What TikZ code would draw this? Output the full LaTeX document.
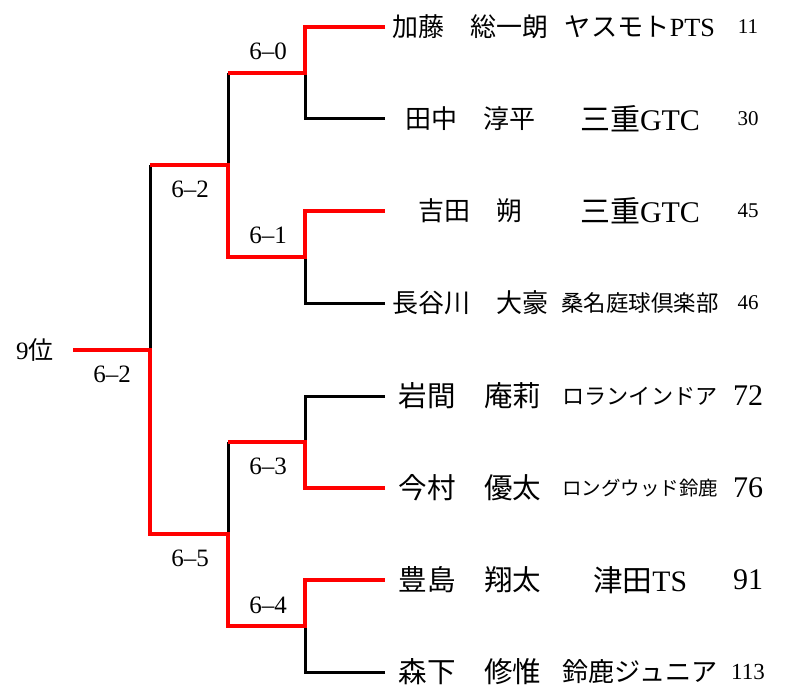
\documentclass[tikz,border=0pt]{standalone}
\usepackage{fontspec}
\usepackage{graphicx}
\setmainfont{Liberation Serif}
\newfontfamily\jp{Noto Sans CJK JP}
\begin{document}
\begin{tikzpicture}[x=1pt,y=-1pt,
  win/.style={draw=red,line width=4pt},
  lose/.style={draw=black,line width=3pt},
  score/.style={font=\fontsize{25}{25}\selectfont,inner sep=0pt},
  nameA/.style={font=\jp\fontsize{26}{26}\selectfont,inner sep=0pt},
  nameB/.style={font=\jp\fontsize{28.5}{28.5}\selectfont,inner sep=0pt},
  team/.style={inner sep=0pt},
  seed/.style={inner sep=0pt}]
\useasboundingbox (0,0) rectangle (792,695);
% leaves
\coordinate (L1) at (385,27);
\coordinate (L2) at (385,119);
\coordinate (L3) at (385,211);
\coordinate (L4) at (385,303);
\coordinate (L5) at (385,396);
\coordinate (L6) at (385,488);
\coordinate (L7) at (385,580);
\coordinate (L8) at (385,672);
% round 1 junctions
\coordinate (M1) at (305,73);
\coordinate (M2) at (305,257);
\coordinate (M3) at (305,442);
\coordinate (M4) at (305,626);
\coordinate (A1) at (228,73);
\coordinate (A2) at (228,257);
\coordinate (A3) at (228,442);
\coordinate (A4) at (228,626);
% round 2
\coordinate (S1) at (228,165);
\coordinate (S2) at (228,534);
\coordinate (B1) at (150,165);
\coordinate (B2) at (150,534);
% final
\coordinate (F) at (150,350);
\coordinate (E) at (73,350);

% losing lines
\draw[lose] (L2) -| (M1);
\draw[lose] (L4) -| (M2);
\draw[lose] (L5) -| (M3);
\draw[lose] (L8) -| (M4);
\draw[lose] (A1) -- (S1);
\draw[lose] (A3) -- (S2);
\draw[lose] (B1) -- (F);
% winning lines
\draw[win] (L1) -| (M1) -- (A1);
\draw[win] (L3) -| (M2) -- (A2) -- (S1) -- (B1);
\draw[win] (L6) -| (M3) -- (A3);
\draw[win] (E) -- (F) -- (B2) -- (S2) -- (A4) -- (M4) |- (L7);

% scores
\node[score] (s60) at (268,51) {6–0};
\node[score] (s61) at (268,235) {6–1};
\node[score] (s63) at (268,466) {6–3};
\node[score] (s64) at (268,605) {6–4};
\node[score] (s62a) at (190,189) {6–2};
\node[score] (s65) at (190,558) {6–5};
\node[score] (s62b) at (112,374) {6–2};
\node[score] (rank) at (35,350) {9{\jp 位}};

% names
\node[nameA] (n1) at (470,27) {加藤　総一朗};
\node[nameA] (n2) at (470,119) {田中　淳平};
\node[nameA] (n3) at (470,211) {吉田　朔};
\node[nameA] (n4) at (470,303) {長谷川　大豪};
\node[nameB] (n5) at (470,396) {岩間　庵莉};
\node[nameB] (n6) at (470,488) {今村　優太};
\node[nameB] (n7) at (470,580) {豊島　翔太};
\node[nameB] (n8) at (470,672) {森下　修惟};

% teams
\node[team] (t1) at (640,27) {\resizebox{150pt}{!}{{\jp ヤスモト}PTS}};
\node[team] (t2) at (640,119) {\resizebox{120pt}{!}{{\jp 三重}GTC}};
\node[team] (t3) at (640,211) {\resizebox{120pt}{!}{{\jp 三重}GTC}};
\node[team] (t4) at (640,303) {\resizebox{157pt}{!}{\jp 桑名庭球倶楽部}};
\node[team] (t5) at (640,396) {\resizebox{155pt}{!}{\jp ロランインドア}};
\node[team] (t6) at (640,488) {\resizebox{156pt}{!}{\jp ロングウッド鈴鹿}};
\node[team] (t7) at (640,580) {\resizebox{94pt}{!}{{\jp 津田}TS}};
\node[team] (t8) at (640,672) {\resizebox{155pt}{!}{\jp 鈴鹿ジュニア}};

% seeds
\node[seed,font=\fontsize{21}{21}\selectfont] (d1) at (748,27) {11};
\node[seed,font=\fontsize{21}{21}\selectfont] (d2) at (748,119) {30};
\node[seed,font=\fontsize{21}{21}\selectfont] (d3) at (748,211) {45};
\node[seed,font=\fontsize{21}{21}\selectfont] (d4) at (748,303) {46};
\node[seed,font=\fontsize{30}{30}\selectfont] (d5) at (748,396) {72};
\node[seed,font=\fontsize{30}{30}\selectfont] (d6) at (748,488) {76};
\node[seed,font=\fontsize{30}{30}\selectfont] (d7) at (748,580) {91};
\node[seed,font=\fontsize{23}{23}\selectfont] (d8) at (748,672) {113};
\end{tikzpicture}
\end{document}
